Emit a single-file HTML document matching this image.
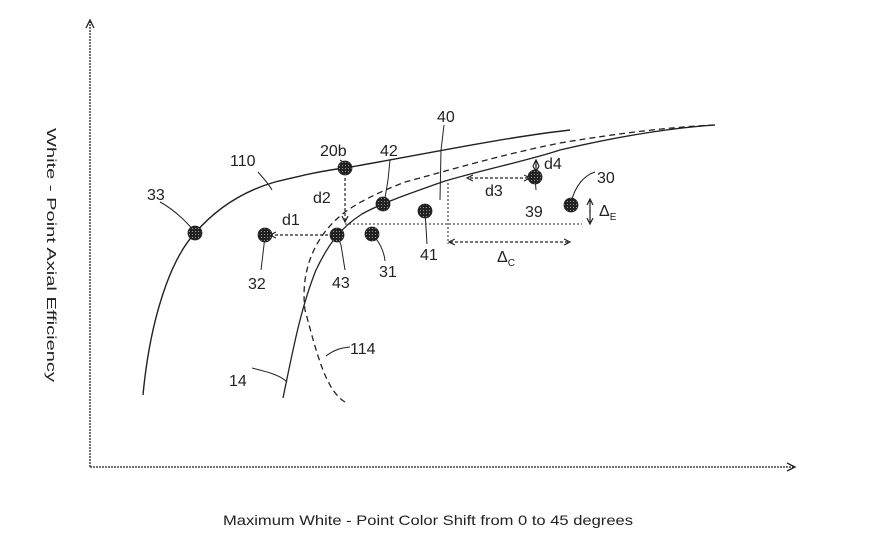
<!DOCTYPE html>
<html><head><meta charset="utf-8"><style>
html,body{margin:0;padding:0;background:#fff;}
svg{display:block;}
text{font-family:"Liberation Sans",sans-serif;fill:#222;}
</style></head><body>
<svg width="886" height="544" viewBox="0 0 886 544" xmlns="http://www.w3.org/2000/svg">
<defs>
<pattern id="hatch" width="3" height="3" patternUnits="userSpaceOnUse">
<rect width="3" height="3" fill="#222"/><rect x="0" y="0" width="1" height="1" fill="#999"/>
</pattern>
<marker id="ah" markerWidth="8" markerHeight="8" refX="6" refY="4" orient="auto" markerUnits="userSpaceOnUse">
<path d="M0,1 L6,4 L0,7" fill="none" stroke="#222" stroke-width="1.2"/>
</marker>
</defs>
<g fill="none" stroke="#222">
<line x1="90" y1="467" x2="90" y2="22" stroke-width="1.3" stroke-dasharray="2,1"/>
<path d="M86,28 L90,20 L94,28" stroke-width="1.3"/>
<line x1="90" y1="467" x2="793" y2="467" stroke-width="1.3" stroke-dasharray="2,1"/>
<path d="M787,463 L795,467 L787,471" stroke-width="1.3"/>
<path d="M143,395 C150,320 170,260 195,233 C215,210 240,192 275,182 C300,176 320,171 345,168 C420,155 500,138 570,130" stroke-width="1.4"/>
<path d="M283,398 C292,355 300,310 316,270 C328,245 340,228 362,214 C380,204 405,195 445,181 C490,168 530,160 560,150 C620,136 670,128 715,125" stroke-width="1.3"/>
<path d="M345,402 C325,390 316,350 305,310 C300,270 315,235 345,212 C365,198 385,190 405,182 C450,170 500,155 560,143 C620,133 670,127 715,125" stroke-width="1.3" stroke-dasharray="6,4"/>
<path d="M160,202 C175,210 190,225 195,233"/>
<path d="M258,172 C265,180 270,186 272,190"/>
<path d="M340,160 C344,162 345,165 345,168"/>
<path d="M390,160 L388,180 L384,204"/>
<path d="M444,125 L441,150 L440,200"/>
<path d="M595,172 C585,175 575,185 571,203"/>
<path d="M536,190 L535,177"/>
<path d="M427,244 L425,211"/>
<path d="M385,261 C384,250 378,240 372,234"/>
<path d="M345,270 L341,245 L337,235"/>
<path d="M261,270 L264,245 L265,235"/>
<path d="M350,347 C340,348 334,350 326,356"/>
<path d="M252,368 C268,372 280,375 287,382"/>
<line x1="345" y1="224" x2="582" y2="224" stroke-dasharray="2,2" stroke-width="1"/>
<line x1="448" y1="183" x2="448" y2="244" stroke-dasharray="2,2" stroke-width="1"/>
<line x1="333" y1="235" x2="270" y2="235" stroke-dasharray="3,2" stroke-width="1.2" marker-end="url(#ah)"/>
<line x1="345" y1="178" x2="345" y2="222" stroke-dasharray="3,2" stroke-width="1.2" marker-end="url(#ah)"/>
<line x1="470" y1="178" x2="530" y2="178" stroke-dasharray="3,2" stroke-width="1.2" marker-end="url(#ah)"/>
<line x1="530" y1="178" x2="467" y2="178" stroke-width="0" marker-end="url(#ah)"/>
<line x1="536" y1="167" x2="536" y2="160" stroke-width="1.2" marker-end="url(#ah)"/>
<line x1="536" y1="165" x2="536" y2="172" stroke-width="1.2" marker-end="url(#ah)"/>
<line x1="450" y1="242" x2="570" y2="242" stroke-dasharray="3,2" stroke-width="1.2" marker-end="url(#ah)"/>
<line x1="560" y1="242" x2="449" y2="242" stroke-width="0" marker-end="url(#ah)"/>
<line x1="590" y1="212" x2="590" y2="199" stroke-width="1.2" marker-end="url(#ah)"/>
<line x1="590" y1="210" x2="590" y2="224" stroke-width="1.2" marker-end="url(#ah)"/>
</g>
<g fill="url(#hatch)" stroke="#222" stroke-width="0.8">
<circle cx="195" cy="233" r="7"/>
<circle cx="265" cy="235" r="7"/>
<circle cx="337" cy="235" r="7"/>
<circle cx="345" cy="168" r="7"/>
<circle cx="383" cy="204" r="7"/>
<circle cx="372" cy="234" r="7"/>
<circle cx="425" cy="211" r="7"/>
<circle cx="535" cy="177" r="7"/>
<circle cx="571" cy="205" r="7"/>
</g>
<g font-size="16">
<text x="230" y="166">110</text>
<text x="147" y="200">33</text>
<text x="320" y="156">20b</text>
<text x="380" y="156">42</text>
<text x="437" y="122">40</text>
<text x="597" y="183">30</text>
<text x="544" y="169">d4</text>
<text x="485" y="196">d3</text>
<text x="525" y="217">39</text>
<text x="599" y="216">Δ<tspan font-size="10" dy="4">E</tspan></text>
<text x="420" y="260">41</text>
<text x="497" y="262">Δ<tspan font-size="10" dy="4">C</tspan></text>
<text x="379" y="277">31</text>
<text x="332" y="288">43</text>
<text x="248" y="289">32</text>
<text x="282" y="225">d1</text>
<text x="313" y="203">d2</text>
<text x="350" y="354">114</text>
<text x="229" y="386">14</text>
</g>
<text x="0" y="0" font-size="13" transform="translate(47,128) rotate(90)" textLength="254" lengthAdjust="spacingAndGlyphs" fill="#555">White - Point Axial Efficiency</text>
<text x="223" y="525" font-size="14" fill="#444" textLength="410" lengthAdjust="spacingAndGlyphs">Maximum White - Point Color Shift from 0 to 45 degrees</text>
</svg>
</body></html>
